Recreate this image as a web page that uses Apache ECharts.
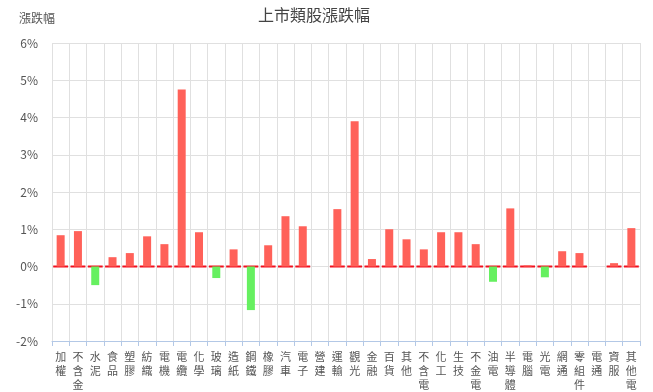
<!DOCTYPE html>
<html>
<head>
<meta charset="utf-8">
<script src="https://cdn.jsdelivr.net/npm/echarts@6/dist/echarts.min.js"></script>
<style>
html,body{margin:0;padding:0;background:#fff;}
#chart{width:653px;height:392px;}
</style>
</head>
<body>
<div id="chart"></div>
<script>
var categories = ['加權','不含金','水泥','食品','塑膠','紡織','電機','電纜','化學','玻璃','造紙','鋼鐵','橡膠','汽車','電子','營建','運輸','觀光','金融','百貨','其他','不含電','化工','生技','不金電','油電','半導體','電腦','光電','網通','零組件','電通','資服','其他電'];
var changes = [0.84,0.95,-0.50,0.25,0.36,0.81,0.60,4.75,0.92,-0.31,0.46,-1.17,0.57,1.35,1.08,null,1.54,3.90,0.20,1.00,0.73,0.46,0.92,0.92,0.60,-0.41,1.56,0.03,-0.29,0.41,0.36,null,0.09,1.03];
var yTicks = {min:-2, max:6, interval:1};
var titleText = '上市類股漲跌幅';
var yName = '漲跌幅';

var FONT = '"Noto Sans CJK TC", "Noto Sans", sans-serif';
var chart = echarts.init(document.getElementById('chart'));

var barData = changes.map(function(v){
  if (v === null) return null;
  return {value: v, itemStyle: {color: v >= 0 ? '#ff6159' : '#66f060'}};
});
var zeroData = [];
changes.forEach(function(v, i){ if (v !== null) zeroData.push([i, 0]); });

chart.setOption({
  animation: false,
  title: {
    text: titleText,
    left: 253, top: 2,
    textStyle: {fontFamily: FONT, fontSize: 16, fontWeight: 'normal', color: '#444'}
  },
  grid: {left: 52, right: 13, top: 43, bottom: 50, containLabel: false},
  xAxis: {
    type: 'category',
    data: categories,
    axisLine: {onZero: false, lineStyle: {color: '#b3c8e6', width: 1}},
    axisTick: {show: true, length: 5, lineStyle: {color: '#b3c8e6'}},
    splitLine: {show: true, lineStyle: {color: '#e0e0e0', width: 1}},
    axisLabel: {
      interval: 0, margin: 9,
      fontFamily: FONT, fontSize: 11, lineHeight: 14, color: '#555',
      formatter: function(v){ return v.split('').join('\n'); }
    }
  },
  yAxis: {
    type: 'value',
    min: yTicks.min, max: yTicks.max, interval: yTicks.interval,
    name: yName,
    nameLocation: 'end',
    nameGap: 19,
    nameTextStyle: {fontFamily: FONT, fontSize: 12, color: '#555', align: 'right', padding: [0, -3, 0, 0]},
    axisLine: {show: false},
    axisTick: {show: false},
    splitLine: {lineStyle: {color: '#e0e0e0', width: 1}},
    axisLabel: {fontFamily: FONT, fontSize: 12, color: '#555', margin: 14, formatter: '{value}%'}
  },
  series: [
    {
      type: 'custom',
      z: 1,
      data: zeroData,
      encode: {x: 0, y: 1},
      renderItem: function(params, api){
        var p = api.coord([api.value(0), api.value(1)]);
        var w = api.size([1, 0])[0] * 0.86;
        return {
          type: 'line',
          shape: {x1: p[0] - w/2, y1: p[1], x2: p[0] + w/2, y2: p[1]},
          style: {stroke: '#f0101e', lineWidth: 2}
        };
      }
    },
    {
      type: 'bar',
      z: 2,
      data: barData,
      barWidth: 8
    }
  ]
});
</script>
</body>
</html>
